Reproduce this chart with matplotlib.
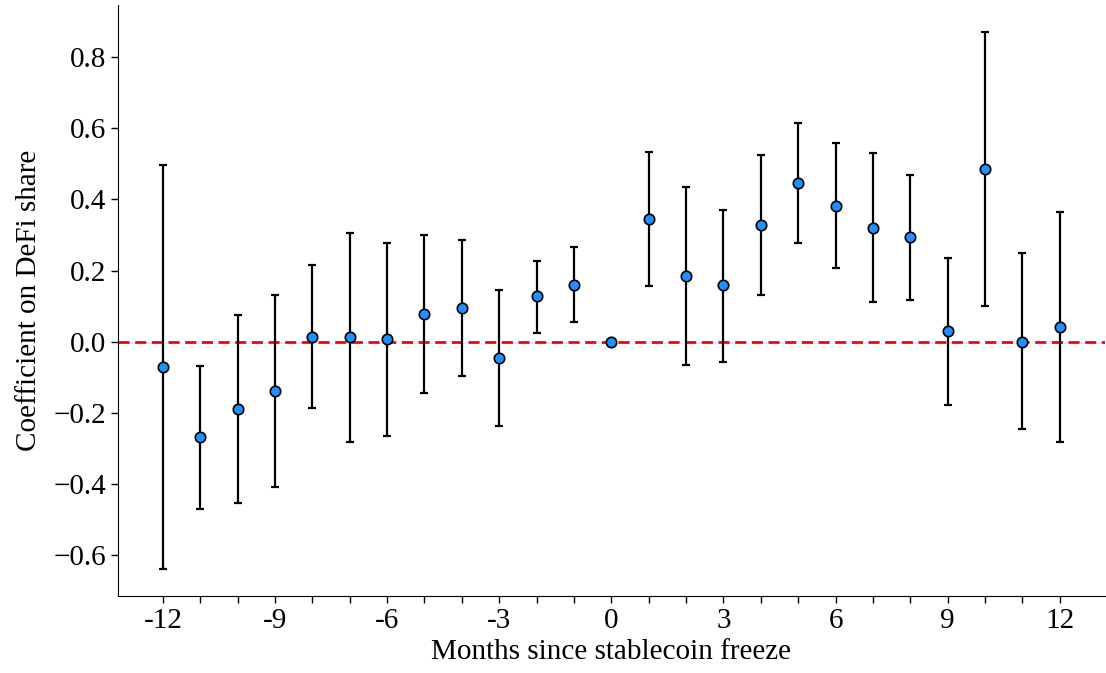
import matplotlib
matplotlib.use("Agg")
import matplotlib.pyplot as plt
import numpy as np

months = list(range(-12, 13))
coef = [-0.072, -0.269, -0.190, -0.139, 0.014, 0.012, 0.006, 0.078, 0.095, -0.046,
        0.127, 0.160, 0.0, 0.346, 0.185, 0.158, 0.329, 0.447, 0.382, 0.321,
        0.294, 0.029, 0.485, 0.0, 0.041]
upper = [0.496, -0.069, 0.075, 0.130, 0.215, 0.306, 0.277, 0.299, 0.286, 0.144,
         0.228, 0.266, 0.0, 0.534, 0.434, 0.371, 0.525, 0.615, 0.559, 0.530,
         0.468, 0.236, 0.871, 0.249, 0.366]
lower = [-0.640, -0.470, -0.453, -0.408, -0.188, -0.283, -0.266, -0.144, -0.098, -0.236,
         0.023, 0.054, 0.0, 0.156, -0.066, -0.056, 0.132, 0.277, 0.206, 0.111,
         0.118, -0.177, 0.100, -0.247, -0.283]
xtick_labels = [str(m) if m % 3 == 0 else "" for m in months]

plt.rcParams['font.family'] = ['Liberation Serif', 'DejaVu Serif']
plt.rcParams['mathtext.fontset'] = 'dejavuserif'

fig = plt.figure(figsize=(11.06, 6.73), dpi=100)
ax = fig.add_axes([0.1067, 0.1144, 0.892, 0.878])

x = np.array(months)
y = np.array(coef)
yerr = np.vstack([y - np.array(lower), np.array(upper) - y])
mask = x != 0
ax.errorbar(x[mask], y[mask], yerr=yerr[:, mask], fmt='none', ecolor='black',
            elinewidth=1.6, capsize=3, capthick=1.6, zorder=2)
ax.plot(x, y, 'o', color='#1E90FF', markeredgecolor='black', markeredgewidth=1.2,
        markersize=7.5, zorder=3)
ax.axhline(0, color='red', linestyle='--', linewidth=2, dashes=(4, 2), zorder=1)

ax.set_xticks(months)
ax.set_xticklabels(xtick_labels)
ax.set_yticks([-0.6, -0.4, -0.2, 0.0, 0.2, 0.4, 0.6, 0.8])
ax.set_yticklabels(['\u22120.6', '\u22120.4', '\u22120.2', '0.0', '0.2', '0.4', '0.6', '0.8'])
ax.tick_params(axis='both', labelsize=21, length=5, width=1)
ax.set_xlabel('Months since stablecoin freeze', fontsize=21, labelpad=4)
ax.set_ylabel('Coefficient on DeFi share', fontsize=21, labelpad=8)
ax.spines['top'].set_visible(False)
ax.spines['right'].set_visible(False)

fig.savefig('out.png', dpi=100)
